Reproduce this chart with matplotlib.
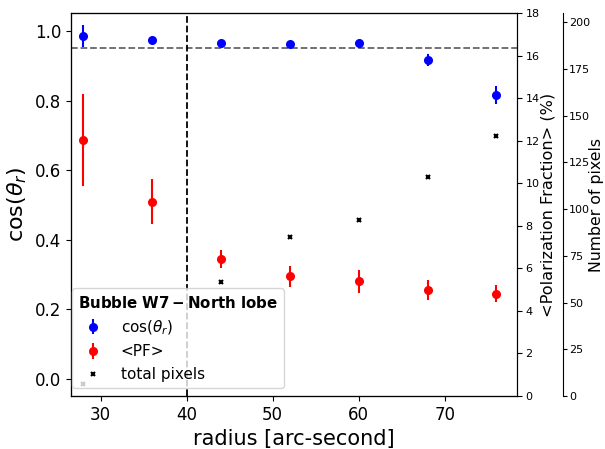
import numpy as np
import matplotlib
matplotlib.use("Agg")
import matplotlib.pyplot as plt

# radius bins [arcsec]
radius = [28, 36, 44, 52, 60, 68, 76]

cos_theta = [0.986, 0.975, 0.966, 0.964, 0.967, 0.917, 0.817]
cos_err = [0.031, 0.005, 0.005, 0.005, 0.005, 0.018, 0.026]

pf = [12.02, 9.13, 6.44, 5.63, 5.39, 4.97, 4.81]
pf_err = [2.17, 1.06, 0.43, 0.50, 0.53, 0.46, 0.41]

n_pix = [6.2, np.nan, 61.1, 85.1, 94.2, 117.2, 139.1]

fig = plt.figure(figsize=(6.05, 4.49), dpi=100)
ax1 = fig.add_axes([71 / 605, 1 - 396 / 449, 446 / 605, 383 / 449])
ax2 = ax1.twinx()
ax3 = ax1.twinx()
ax3.spines["right"].set_position(("axes", 1 + 46 / 446))

h1 = ax1.errorbar(radius, cos_theta, yerr=cos_err, fmt="o", color="blue", ms=5.5, label=r"cos($\theta_r$)")
ax1.axhline(0.95, color="0.4", ls="--", lw=1.3)
ax1.axvline(40, color="k", ls="--", lw=1.3)
h2 = ax2.errorbar(radius, pf, yerr=pf_err, fmt="o", color="red", ms=5.5, label="<PF>")
h3, = ax3.plot(radius, n_pix, "x", color="k", ms=3, mew=1.5, label="total pixels")

ax1.set_xlim(26.55, 78.4)
ax1.set_ylim(-0.05, 1.052)
ax2.set_ylim(0, 18)
ax3.set_ylim(0, 205)

ax1.set_xlabel("radius [arc-second]", fontsize=15)
ax1.set_ylabel(r"cos($\theta_r$)", fontsize=16)
ax2.set_ylabel("<Polarization Fraction> (%)", fontsize=11.6)
ax3.set_ylabel("Number of pixels", fontsize=11.3)
ax2.yaxis.set_label_coords(1.052, 0.5)
ax3.yaxis.set_label_coords(1.1625, 0.5)

ax1.tick_params(labelsize=12)
ax2.tick_params(labelsize=8, pad=2.5)
ax3.tick_params(labelsize=8, pad=1.5, length=3)
ax2.set_yticks(np.arange(0, 19, 2))
ax3.set_yticks(np.arange(0, 201, 25))

leg = ax3.legend(handles=[h1, h2, h3], loc="lower left", fontsize=11,
                 title=r"$\bf{Bubble\ W7-North\ lobe}$", title_fontsize=10.8,
                 alignment="left", borderaxespad=0,
                 bbox_to_anchor=(0.002, 8 / 383))

fig.savefig("out.png", dpi=100)
